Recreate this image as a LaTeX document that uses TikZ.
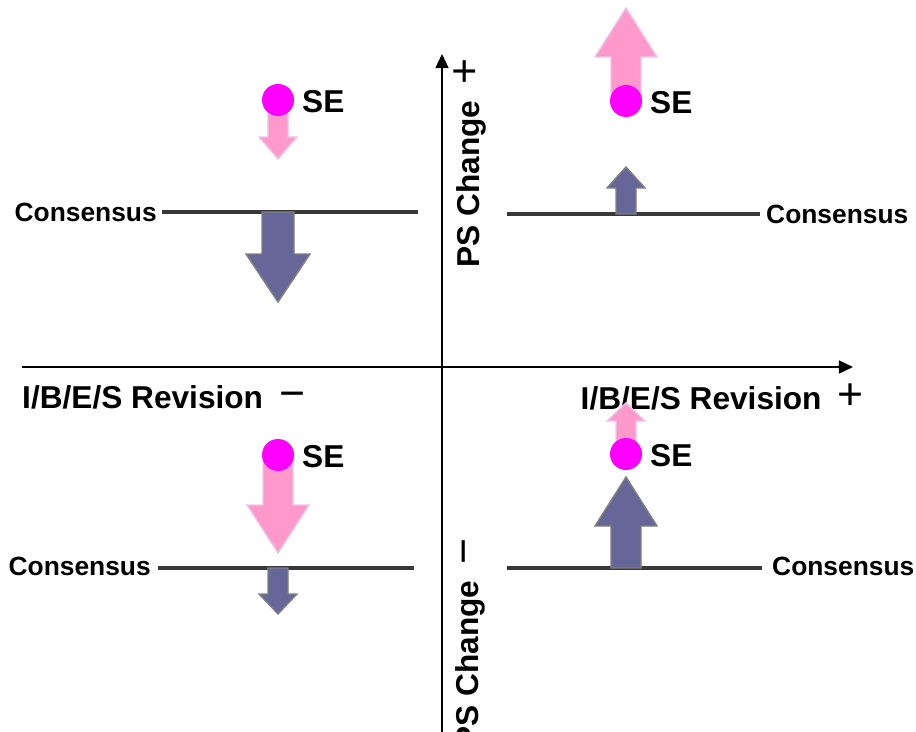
\documentclass[tikz,border=0pt]{standalone}
\usepackage{fontspec}
\setmainfont{Liberation Sans}
\usetikzlibrary{arrows.meta,calc}
\definecolor{slate}{HTML}{666699}
\definecolor{rose}{HTML}{FF99CC}
\definecolor{roseedge}{HTML}{E8C6E8}
\definecolor{dotpink}{HTML}{FF00FF}
\tikzset{
  axis/.style={line width=1.6pt,-{Triangle[length=12pt,width=11pt]}},
  consensus/.style={line width=2.6pt,draw=black!78},
  forecast/.style={fill=slate,draw=gray,line width=1.2pt},
  analyst/.style={fill=rose,draw=roseedge,line width=1.2pt},
  sedot/.style={circle,fill=dotpink,minimum size=0.96cm,inner sep=0pt},
  selabel/.style={font=\fontsize{27}{31}\selectfont\bfseries,anchor=west,inner sep=0pt},
  conslabel/.style={font=\fontsize{22.5}{26}\selectfont\bfseries,inner sep=0pt},
  axislabel/.style={font=\fontsize{27}{31}\selectfont\bfseries,inner sep=0pt}
}
% block arrow: style, x, y start, y head base, y tip, half shaft, half head
\newcommand{\blockarrow}[7]{%
  \draw[#1] (#2-#6,#3) -- (#2-#6,#4) -- (#2-#7,#4) -- (#2,#5)
    -- (#2+#7,#4) -- (#2+#6,#4) -- (#2+#6,#3) -- cycle;}
\newcommand{\sgn}[1]{{\fontsize{38}{40}\selectfont\mdseries\,#1}}

\begin{document}
\begin{tikzpicture}[x=0.03cm,y=-0.03cm]
\useasboundingbox (0,0) rectangle (916,732);
\clip (0,0) rectangle (916,732);

% axes
\coordinate (xl) at (22,367);
\coordinate (xr) at (853,367);
\coordinate (yb) at (442,740);
\coordinate (yt) at (442,54);
\draw[axis] (xl) -- (xr);
\draw[axis] (yb) -- (yt);
\node[axislabel,anchor=west] (xminus) at (22,397) {I/B/E/S Revision \sgn{−}};
\node[axislabel,anchor=east] (xplus) at (864,397) {I/B/E/S Revision \sgn{+}};
\node[axislabel,rotate=90,anchor=east] (yplus) at (470,58) {PS Change \sgn{+}};
\node[axislabel,rotate=90,anchor=east] (yminus) at (470,538) {PS Change \sgn{−}};

% top left
\node[conslabel,anchor=east] (c1) at (157,212) {Consensus};
\draw[consensus] (162,212) -- (418,212);
\blockarrow{forecast}{278}{212}{254}{302}{16}{32}
\blockarrow{analyst}{278}{105}{137}{159}{10}{19}
\node[sedot] (se1) at (278,100) {};
\node[selabel] (l1) at (302,102) {SE};

% top right
\node[conslabel,anchor=west] (c2) at (766,214) {Consensus};
\draw[consensus] (507,214) -- (760,214);
\blockarrow{forecast}{626}{214}{188}{167}{10}{19}
\blockarrow{analyst}{626}{96}{57}{8}{15}{31}
\node[sedot] (se2) at (626,101) {};
\node[selabel] (l2) at (650,103) {SE};

% bottom left
\node[conslabel,anchor=east] (c3) at (151,566) {Consensus};
\draw[consensus] (158,568) -- (414,568);
\blockarrow{forecast}{278}{568}{594}{614}{10}{19}
\blockarrow{analyst}{278}{460}{505}{553}{15}{31}
\node[sedot] (se3) at (278,455) {};
\node[selabel] (l3) at (302,457) {SE};

% bottom right
\node[conslabel,anchor=west] (c4) at (772,566) {Consensus};
\draw[consensus] (507,568) -- (762,568);
\blockarrow{forecast}{626}{568}{526}{477}{15}{31}
\blockarrow{analyst}{626}{449}{421}{403}{10}{19}
\node[sedot] (se4) at (626,454) {};
\node[selabel] (l4) at (650,456) {SE};
\end{tikzpicture}
\end{document}
